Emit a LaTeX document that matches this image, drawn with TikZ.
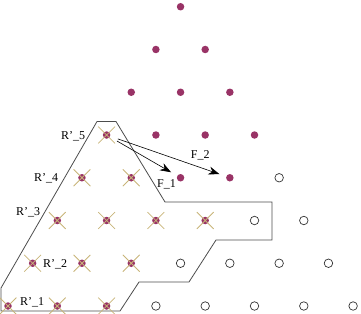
\documentclass[tikz,border=0pt]{standalone}
\usepackage{fontspec}
\setmainfont{Liberation Serif}
\usepackage{xcolor}
\usepackage{tikz}
\usetikzlibrary{shapes.misc, arrows.meta}

\definecolor{sitepurple}{HTML}{993366}
\definecolor{crosstan}{HTML}{C8B478}

\tikzset{
        site/.style={circle, fill=sitepurple, inner sep=0pt, minimum size=7.5pt},
        hole/.style={circle, draw=black!80, line width=0.7pt, inner sep=0pt, minimum size=8.5pt},
        xmark/.style={cross out, draw=crosstan, line width=0.8pt, inner sep=0pt, minimum size=16pt},
        lbl/.style={inner sep=0pt, anchor=base west, font=\fontsize{12}{14}\selectfont},
        force/.style={-{Stealth[length=11pt, width=8pt]}, line width=0.6pt, shorten <=8pt, shorten >=7pt},
}

\begin{document}
\begin{tikzpicture}[x=1pt, y=-1pt]

        \useasboundingbox (0,0) rectangle (361,313);

        % region R'
        \draw[black!70, line width=0.8pt] (97,121.5) -- (116,121.5) -- (165,202) -- (272,202) -- (272,240)
                -- (216,240) -- (189,282) -- (139,282) -- (120,311) -- (1,311) -- (1,288) -- cycle;

        % row 0
        \foreach \k in {0,1,2} {
                \node[site] (s0\k) at ({8+49.3*\k}, 306) {};
                \node[xmark] (x0\k) at (s0\k) {};
        }
        \foreach \k in {3,...,7} \node[hole] (s0\k) at ({8+49.3*\k}, 306) {};

        % row 1
        \foreach \k in {0,1,2} {
                \node[site] (s1\k) at ({32.65+49.3*\k}, 263.25) {};
                \node[xmark] (x1\k) at (s1\k) {};
        }
        \foreach \k in {3,...,6} \node[hole] (s1\k) at ({32.65+49.3*\k}, 263.25) {};

        % row 2
        \foreach \k in {0,...,3} {
                \node[site] (s2\k) at ({57.3+49.3*\k}, 220.5) {};
                \node[xmark] (x2\k) at (s2\k) {};
        }
        \foreach \k in {4,5} \node[hole] (s2\k) at ({57.3+49.3*\k}, 220.5) {};

        % row 3
        \foreach \k in {0,1} {
                \node[site] (s3\k) at ({81.95+49.3*\k}, 177.75) {};
                \node[xmark] (x3\k) at (s3\k) {};
        }
        \foreach \k in {2,3} \node[site] (s3\k) at ({81.95+49.3*\k}, 177.75) {};
        \node[hole] (s34) at ({81.95+49.3*4}, 177.75) {};

        % row 4
        \node[site] (s40) at (106.6, 135) {};
        \node[xmark] (x40) at (s40) {};
        \foreach \k in {1,2,3} \node[site] (s4\k) at ({106.6+49.3*\k}, 135) {};

        % rows 5 to 7
        \foreach \k in {0,1,2} \node[site] (s5\k) at ({131.25+49.3*\k}, 92.25) {};
        \foreach \k in {0,1} \node[site] (s6\k) at ({155.9+49.3*\k}, 49.5) {};
        \node[site] (s70) at (180.55, 6.75) {};

        \draw[force] (s40) -- (s32);

        \draw[force] (s40) -- (s33);

        \node[lbl] (r5) at (61,139) {R'\_5};
        \node[lbl] (r4) at (34,181.7) {R'\_4};
        \node[lbl] (r3) at (16,215) {R'\_3};
        \node[lbl] (r2) at (43,267) {R'\_2};
        \node[lbl] (r1) at (20,305) {R'\_1};
        \node[lbl] (f1) at (157,187) {F\_1};
        \node[lbl] (f2) at (190.7,158) {F\_2};

\end{tikzpicture}
\end{document}
